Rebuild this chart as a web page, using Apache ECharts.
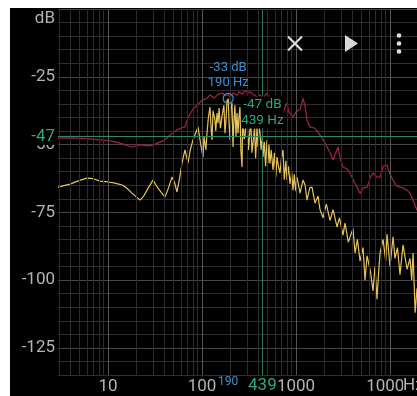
<!DOCTYPE html>
<html>
<head>
<meta charset="utf-8">
<script src="https://cdn.jsdelivr.net/npm/echarts@6/dist/echarts.min.js"></script>
<style>
  html, body { margin: 0; padding: 0; background: #ffffff; width: 417px; height: 396px; overflow: hidden; }
  #chart { position: absolute; left: 10px; top: 8px; width: 407px; height: 388px; background: #000; }
</style>
</head>
<body>
<div id="chart"></div>
<script>
// Frequency axis range (Hz) and level axis range (dB)
const freqMin = 2.94;
const freqMax = 19360;
const dbMin = -135;
const dbMax = 0;

// Decade labels along the frequency axis
const decadeTicks = [10, 100, 1000, 10000];
// Log-style vertical grid lines (2..9 of each decade)
const minorFreqs = [3, 4, 5, 6, 7, 8, 9,
  20, 30, 40, 50, 60, 70, 80, 90,
  200, 300, 400, 500, 600, 700, 800, 900,
  2000, 3000, 4000, 5000, 6000, 7000, 8000, 9000];

// Peak-hold spectrum (dark red)
const peakHz = [2.94, 4, 6, 8.2, 10, 12, 15, 18, 22, 26, 30, 36, 40, 46, 50, 54, 61, 66, 71, 80, 90,
  100, 113, 122, 135, 148, 167, 176, 190, 199, 214, 236, 250, 267, 287, 308, 324, 350, 385, 414, 445,
  491, 528, 569, 628, 676, 727, 765, 802, 840, 929, 1000, 1104, 1187, 1250, 1309, 1409, 1592, 1714,
  2036, 2301, 2477, 2650, 2800, 2950, 3162, 3500, 3750, 4200, 4797, 5200, 5691, 6200, 6594, 7270,
  7833, 8436, 9296, 10000, 10770, 11500, 12770, 13750, 15170, 16330, 17590, 19360];
const peakDb = [-47.6, -47.5, -47.8, -48.3, -48.5, -49, -50, -51, -50, -50.5, -50.2, -49, -48.3, -46.5, -45.5, -44.6, -43.8, -43.5, -40, -37, -35.4,
  -33.6, -33, -31.7, -32.8, -31.5, -31, -32, -31.5, -32.5, -31, -31.8, -30.5, -31.5, -30, -31, -30.5, -31.5, -32.5, -31.7, -33,
  -31, -33.6, -34, -36, -36.5, -38.4, -36, -34.7, -38, -39.9, -38, -37, -33, -36, -41, -43.5, -44, -45.4,
  -49.4, -53, -55.7, -53, -50.9, -55, -58.3, -59, -60.5, -64, -68, -66, -65.7, -62, -60.5, -62,
  -62, -58, -57.6, -61, -63.1, -65, -65.7, -66, -66.8, -68, -70.5, -74.2];

// Live spectrum (yellow)
const liveHz = [2.94, 3.94, 5, 6, 7, 8.2, 10, 11.9, 14.4, 16, 18, 21.9, 24, 26, 30.1, 34, 40.4, 44, 48, 51,
  54.2, 58, 61.3, 65.9, 71, 75, 80.2, 90.6, 97, 102.5, 105, 110, 113, 117, 121.6, 125, 127.7, 131, 137.4, 140,
  144.5, 148, 152, 157, 163, 167, 171, 175.6, 180, 184.5, 186, 190, 194, 198.6, 203, 208.5, 213.8, 218, 224, 230,
  235.6, 241.5, 247, 253.5, 259, 266.6, 271, 276, 281, 286.6, 294, 301, 312, 324, 330, 340, 349, 362, 372, 384.6,
  394.5, 403, 414, 425, 439, 445.6, 460, 475, 491, 503, 515, 528, 545, 569, 590, 610, 628, 650, 676, 700,
  727, 750, 780, 802, 830, 863, 900, 929, 960, 990, 1025, 1104, 1187, 1250, 1309, 1400, 1479, 1592, 1714, 1800,
  1936, 2100, 2301, 2477, 2731, 2900, 3162, 3320, 3600, 4036, 4244, 4500, 4797, 5163, 5420, 5691, 6200, 6594, 6924, 7270,
  7600, 7833, 8436, 9000, 9296, 10000, 10770, 11300, 12000, 12770, 13750, 15170, 16330, 17000, 17590, 18500, 19360];
const liveDb = [-65.7, -64.6, -63.2, -62.4, -62.6, -63.5, -63.8, -64.2, -65, -66.2, -67.9, -70.5, -69, -66.8, -63.1, -66.1, -69.4, -66, -62, -64,
  -67.5, -62, -56.8, -52, -56.8, -52, -48.3, -43.5, -50, -54.6, -47, -52, -45.8, -40, -36.2, -44, -48.3, -37.5, -41, -45,
  -38.4, -42.1, -36.5, -44, -39.9, -37.3, -35.5, -45.8, -41, -33.6, -35, -33, -42, -48.3, -37, -34.7, -50.9, -42, -35.5, -47,
  -38.4, -45.8, -40, -36.2, -52, -58.3, -38, -37.3, -48, -47.2, -42, -39.9, -52, -44.6, -41, -53, -49.4, -44, -55, -43.5,
  -50.9, -43, -45.8, -52, -47, -54.6, -49, -58, -48.3, -56.8, -50, -57, -52, -59.4, -53, -62, -54.6, -58, -60.5, -55,
  -52, -63, -56, -63.1, -58, -64.5, -60, -66.8, -61, -67, -62, -67.9, -63.1, -65, -70.5, -66, -65.7, -71.6, -69, -74,
  -77, -72, -78, -74, -80.4, -77, -83.4, -79, -86, -81, -90, -85, -93, -88, -100, -91, -97, -104, -95, -107,
  -96, -90, -85, -93, -83, -95, -84, -92, -88, -98, -87, -96, -92, -100, -90, -112, -103];

// Peak marker and cursor readouts
const peakMark = { hz: 190, db: -33 };
const cursor = { hz: 439, db: -47 };

const GRAY = '#b4b4b4';
const BLUE = '#3f8fd2';
const GREEN = '#2eaa72';
const FONT = 'Roboto';

function pairs(xs, ys) { return xs.map((x, i) => [x, ys[i]]); }

const gridLineData = minorFreqs.map(v => ({ xAxis: v, lineStyle: { color: '#2c2c2c', width: 1, type: 'solid' } }))
  .concat(decadeTicks.map(v => ({ xAxis: v, lineStyle: { color: '#555555', width: 1, type: 'solid' } })));

const chart = echarts.init(document.getElementById('chart'), null, { renderer: 'canvas' });

chart.setOption({
  backgroundColor: '#000',
  animation: false,
  grid: { left: 48, top: 1, right: 0, bottom: 21 },
  xAxis: {
    type: 'log',
    logBase: 10,
    min: freqMin,
    max: freqMax,
    axisLine: { show: false },
    axisTick: { show: false },
    splitLine: { show: false },
    axisLabel: {
      showMinLabel: false,
      showMaxLabel: false,
      margin: 3,
      color: GRAY,
      fontFamily: FONT,
      fontSize: 17,
      formatter: function (v) {
        const r = Math.round(v);
        return decadeTicks.indexOf(r) >= 0 ? String(r) : '';
      }
    }
  },
  yAxis: {
    type: 'value',
    min: dbMin,
    max: dbMax,
    interval: 5,
    axisLine: { show: false },
    axisTick: { show: false },
    splitLine: { show: true, lineStyle: { color: ['#2e2e2e', '#2e2e2e', '#464646', '#2e2e2e', '#2e2e2e'], width: 1 } },
    axisLabel: {
      margin: 3,
      color: GRAY,
      fontFamily: FONT,
      fontSize: 17,
      formatter: function (v) { return (v % 25 === 0 && v !== 0) ? String(v) : ''; }
    }
  },
  graphic: [
    { type: 'text', x: 45, y: 11, z: 100, style: { text: 'dB', fill: GRAY, font: '17px Roboto', textAlign: 'right', textVerticalAlign: 'middle' } },
    { type: 'text', x: 393, y: 378, z: 100, style: { text: 'Hz', fill: GRAY, font: '17px Roboto', textAlign: 'left', textVerticalAlign: 'middle', backgroundColor: '#000' } },
    // toolbar: close, play, overflow menu
    { type: 'line', z: 100, shape: { x1: 278, y1: 28.5, x2: 292, y2: 42.5 }, style: { stroke: '#dcdcdc', lineWidth: 2.2 } },
    { type: 'line', z: 100, shape: { x1: 292, y1: 28.5, x2: 278, y2: 42.5 }, style: { stroke: '#dcdcdc', lineWidth: 2.2 } },
    { type: 'polygon', z: 100, shape: { points: [[335, 27], [335, 44], [348, 35.5]] }, style: { fill: '#d8d8d8' } },
    { type: 'circle', z: 100, shape: { cx: 389, cy: 27.5, r: 2.3 }, style: { fill: '#e0e0e0' } },
    { type: 'circle', z: 100, shape: { cx: 389, cy: 35.5, r: 2.3 }, style: { fill: '#e0e0e0' } },
    { type: 'circle', z: 100, shape: { cx: 389, cy: 43.5, r: 2.3 }, style: { fill: '#e0e0e0' } }
  ],
  series: [
    {
      // log-frequency grid lines
      type: 'line',
      data: [],
      silent: true,
      z: 1,
      markLine: {
        silent: true,
        symbol: ['none', 'none'],
        label: { show: false },
        data: gridLineData
      }
    },
    {
      name: 'peak',
      type: 'line',
      data: pairs(peakHz, peakDb),
      showSymbol: false,
      lineStyle: { color: '#a8224a', width: 1.2 },
      z: 3
    },
    {
      name: 'live',
      type: 'line',
      data: pairs(liveHz, liveDb),
      showSymbol: false,
      lineStyle: { color: '#e6c35c', width: 1.2 },
      z: 4,
      markLine: {
        silent: true,
        symbol: ['none', 'none'],
        data: [
          { xAxis: cursor.hz, lineStyle: { color: '#2a7a55', width: 1, type: 'solid' },
            label: { show: true, position: 'start', distance: 2, formatter: String(cursor.hz), color: GREEN, fontFamily: FONT, fontSize: 17 } },
          { yAxis: cursor.db, lineStyle: { color: '#2e8a60', width: 1, type: 'solid' },
            label: { show: true, position: 'start', distance: 3, formatter: String(cursor.db), color: GREEN, fontFamily: FONT, fontSize: 17, backgroundColor: '#000' } },
          { xAxis: peakMark.hz, lineStyle: { color: 'rgba(0,0,0,0)', width: 0 },
            label: { show: true, position: 'start', distance: 1, formatter: String(peakMark.hz), color: BLUE, fontFamily: FONT, fontSize: 12 } }
        ]
      },
      markPoint: {
        silent: true,
        data: [
          { coord: [peakMark.hz, peakMark.db], symbol: 'circle', symbolSize: 10,
            itemStyle: { color: 'rgba(0,0,0,0)', borderColor: BLUE, borderWidth: 1.2 },
            label: { show: true, position: 'top', distance: 3, formatter: peakMark.db + ' dB\n' + peakMark.hz + ' Hz',
              color: BLUE, fontFamily: FONT, fontSize: 13, lineHeight: 15 } },
          { coord: [cursor.hz, cursor.db], symbol: 'circle', symbolSize: 0,
            itemStyle: { color: 'rgba(0,0,0,0)' },
            label: { show: true, position: 'top', distance: 8, formatter: cursor.db + ' dB\n' + cursor.hz + ' Hz',
              color: GREEN, fontFamily: FONT, fontSize: 13.5, lineHeight: 16, backgroundColor: '#000' } }
        ]
      }
    }
  ]
});
</script>
</body>
</html>
